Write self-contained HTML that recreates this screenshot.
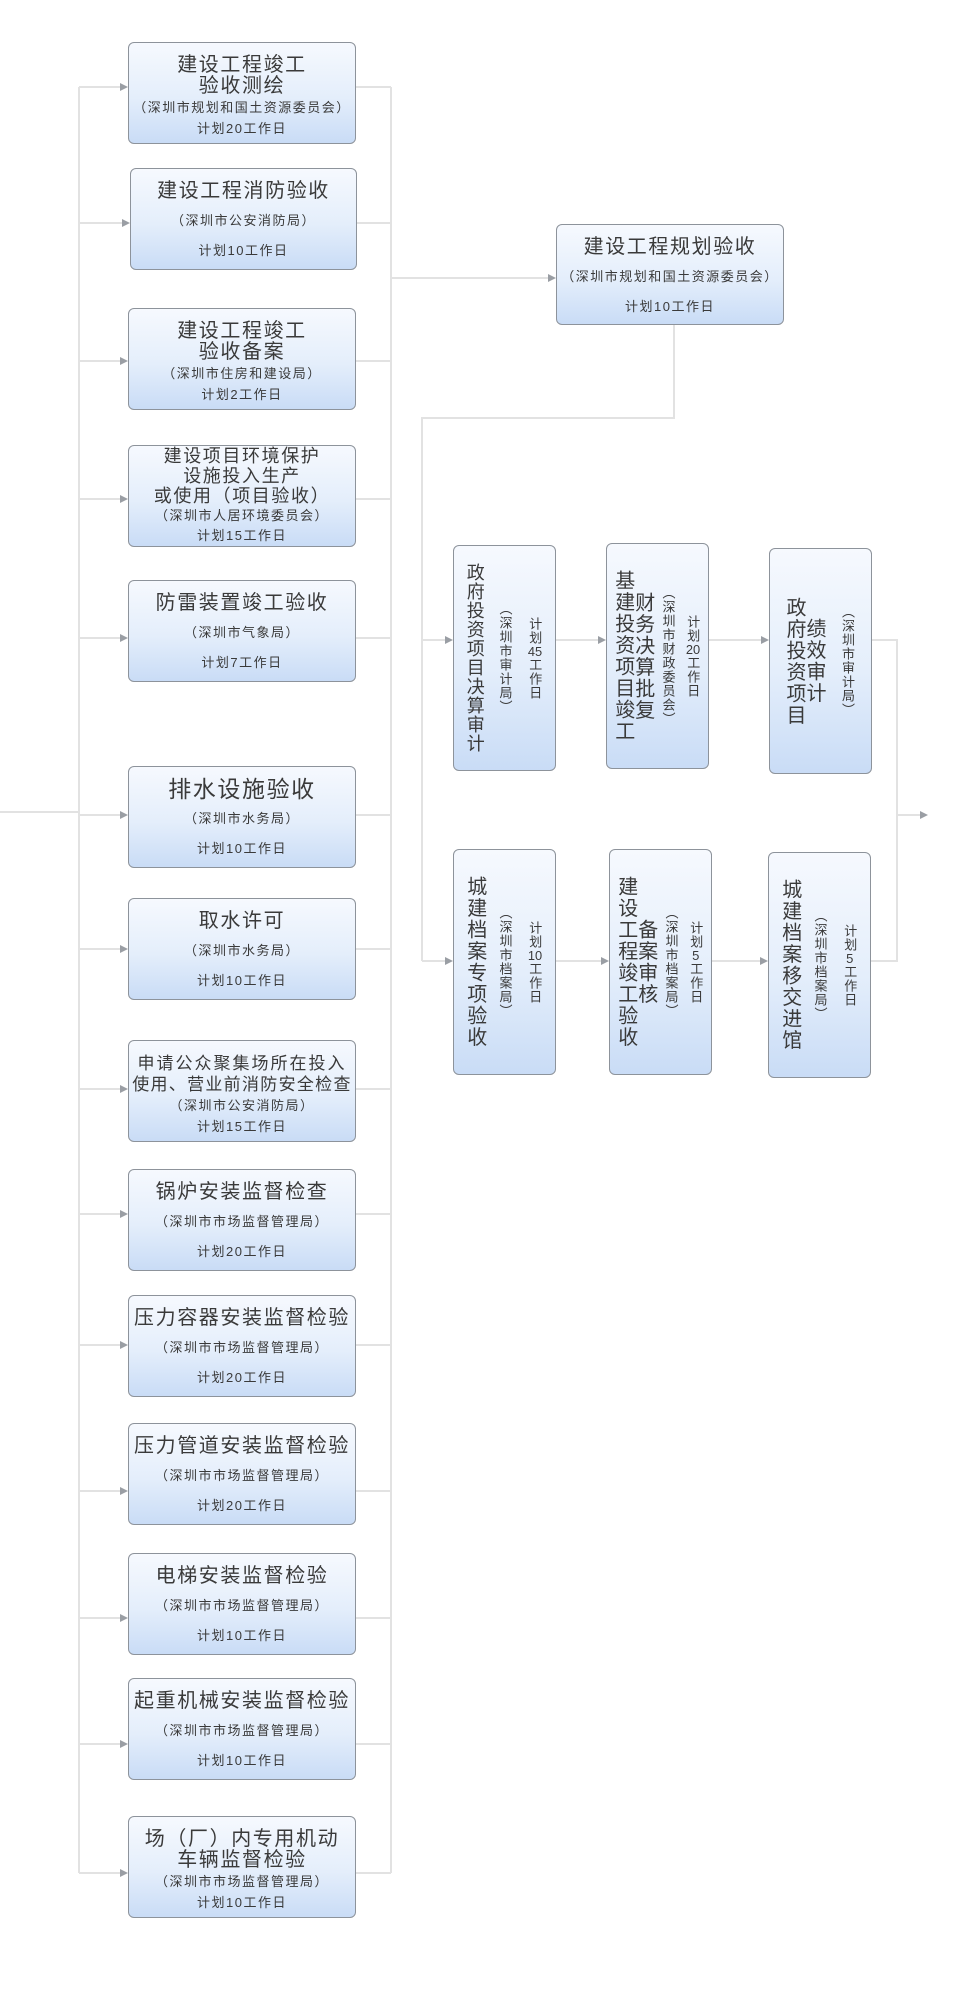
<!DOCTYPE html>
<html><head><meta charset="utf-8"><style>
body{margin:0;background:#fff;width:955px;height:2000px;position:relative;overflow:hidden;font-family:"Liberation Sans","Noto Sans CJK SC",sans-serif;color:#3a3a3a}
.b{position:absolute;box-sizing:border-box;border:1.5px solid #8d939b;border-radius:6px;background:linear-gradient(#f6f9fe,#e4eefb 55%,#c9dcf6);text-align:center;white-space:nowrap}
.h{left:128px;width:228px;height:102px}
.t{font-size:20px;letter-spacing:1.6px}
.s{font-size:13px;letter-spacing:1.5px}
.p3 div{line-height:30px}.p3{padding-top:7px}
.p4 div{line-height:21px}.p4{padding-top:12px;box-sizing:border-box}
.p5 div{line-height:20px}.p5{padding-top:0}
.v{display:flex;justify-content:space-evenly;align-items:center;height:226px;width:103px}
.v>div{writing-mode:vertical-lr;text-orientation:upright}
.vt{font-size:20px;letter-spacing:1.5px;line-height:20px;height:176px;text-align:center;white-space:normal}
.vs{font-size:13px;letter-spacing:1px}
.tc{text-combine-upright:all}
</style></head><body>
<svg width="955" height="2000" style="position:absolute;left:0;top:0">
<g stroke="#e2e2e2" stroke-width="2" fill="none">
<path d="M0 812H79M79 87V1873M391 87V1873M391 278H550"/>
<path d="M79 87H122M79 223H124M79 361H122M79 499H122M79 638H122M79 815H122M79 949H122M79 1089H122M79 1214H122M79 1345H122M79 1491H122M79 1618H122M79 1744H122M79 1873H122"/>
<path d="M356 87H391M357 223H391M355 361H391M355 499H391M355 638H391M354 815H391M356 949H391M355 1089H391M355 1214H391M355 1345H391M355 1491H391M355 1618H391M355 1744H391M355 1873H391"/>
<path d="M674 325V418H422V961M422 640H447M422 961H447M556 640H600M709 640H763M556 961H603M712 961H762M872 640H897V961H871M897 815H922"/>
</g>
<g fill="#9a9ea4">
<path d="M120 83l8 4-8 4zM122 219l8 4-8 4zM120 357l8 4-8 4zM120 495l8 4-8 4zM120 634l8 4-8 4zM120 811l8 4-8 4zM120 945l8 4-8 4zM120 1085l8 4-8 4zM120 1210l8 4-8 4zM120 1341l8 4-8 4zM120 1487l8 4-8 4zM120 1614l8 4-8 4zM120 1740l8 4-8 4zM120 1869l8 4-8 4z"/>
<path d="M548 274l8 4-8 4zM445 636l8 4-8 4zM445 957l8 4-8 4zM598 636l8 4-8 4zM761 636l8 4-8 4zM601 957l8 4-8 4zM760 957l8 4-8 4zM920 811l8 4-8 4z"/>
</g>
</svg>

<div class="b h p4" style="top:42px"><div class="t">建设工程竣工</div><div class="t">验收测绘</div><div class="s">（深圳市规划和国土资源委员会）</div><div class="s">计划20工作日</div></div>
<div class="b h p3" style="top:168px;left:130px;width:227px"><div class="t">建设工程消防验收</div><div class="s">（深圳市公安消防局）</div><div class="s">计划10工作日</div></div>
<div class="b h p4" style="top:308px"><div class="t">建设工程竣工</div><div class="t">验收备案</div><div class="s">（深圳市住房和建设局）</div><div class="s">计划2工作日</div></div>
<div class="b h p5" style="top:445px"><div class="t" style="font-size:18px">建设项目环境保护</div><div class="t" style="font-size:18px">设施投入生产</div><div class="t" style="font-size:18px">或使用（项目验收）</div><div class="s">（深圳市人居环境委员会）</div><div class="s">计划15工作日</div></div>
<div class="b h p3" style="top:580px"><div class="t">防雷装置竣工验收</div><div class="s">（深圳市气象局）</div><div class="s">计划7工作日</div></div>
<div class="b h p3" style="top:766px"><div class="t" style="font-size:23px">排水设施验收</div><div class="s">（深圳市水务局）</div><div class="s">计划10工作日</div></div>
<div class="b h p3" style="top:898px"><div class="t">取水许可</div><div class="s">（深圳市水务局）</div><div class="s">计划10工作日</div></div>
<div class="b h p4" style="top:1040px"><div class="t" style="font-size:17px;letter-spacing:2px">申请公众聚集场所在投入</div><div class="t" style="font-size:17px;letter-spacing:1.3px">使用、营业前消防安全检查</div><div class="s">（深圳市公安消防局）</div><div class="s">计划15工作日</div></div>
<div class="b h p3" style="top:1169px"><div class="t">锅炉安装监督检查</div><div class="s">（深圳市市场监督管理局）</div><div class="s">计划20工作日</div></div>
<div class="b h p3" style="top:1295px"><div class="t">压力容器安装监督检验</div><div class="s">（深圳市市场监督管理局）</div><div class="s">计划20工作日</div></div>
<div class="b h p3" style="top:1423px"><div class="t">压力管道安装监督检验</div><div class="s">（深圳市市场监督管理局）</div><div class="s">计划20工作日</div></div>
<div class="b h p3" style="top:1553px"><div class="t">电梯安装监督检验</div><div class="s">（深圳市市场监督管理局）</div><div class="s">计划10工作日</div></div>
<div class="b h p3" style="top:1678px"><div class="t">起重机械安装监督检验</div><div class="s">（深圳市市场监督管理局）</div><div class="s">计划10工作日</div></div>
<div class="b h p4" style="top:1816px"><div class="t">场（厂）内专用机动</div><div class="t">车辆监督检验</div><div class="s">（深圳市市场监督管理局）</div><div class="s">计划10工作日</div></div>

<div class="b p3" style="left:556px;top:224px;width:228px;height:101px"><div class="t">建设工程规划验收</div><div class="s">（深圳市规划和国土资源委员会）</div><div class="s">计划10工作日</div></div>

<div class="b v" style="left:453px;top:545px"><div class="vt" style="font-size:18px;letter-spacing:1px;height:195px">政府投资项目决算审计</div><div class="vs">（深圳市审计局）</div><div class="vs">计划<span class="tc">45</span>工作日</div></div>
<div class="b v" style="left:606px;top:543px"><div class="vt">基建投资项目竣工财务决算批复</div><div class="vs">（深圳市财政委员会）</div><div class="vs">计划<span class="tc">20</span>工作日</div></div>
<div class="b v" style="left:769px;top:548px"><div class="vt" style="height:132px">政府投资项目绩效审计</div><div class="vs">（深圳市审计局）</div></div>
<div class="b v" style="left:453px;top:849px"><div class="vt">城建档案专项验收</div><div class="vs">（深圳市档案局）</div><div class="vs">计划<span class="tc">10</span>工作日</div></div>
<div class="b v" style="left:609px;top:849px"><div class="vt">建设工程竣工验收备案审核</div><div class="vs">（深圳市档案局）</div><div class="vs">计划<span class="tc">5</span>工作日</div></div>
<div class="b v" style="left:768px;top:852px"><div class="vt">城建档案移交进馆</div><div class="vs">（深圳市档案局）</div><div class="vs">计划<span class="tc">5</span>工作日</div></div>
</body></html>
